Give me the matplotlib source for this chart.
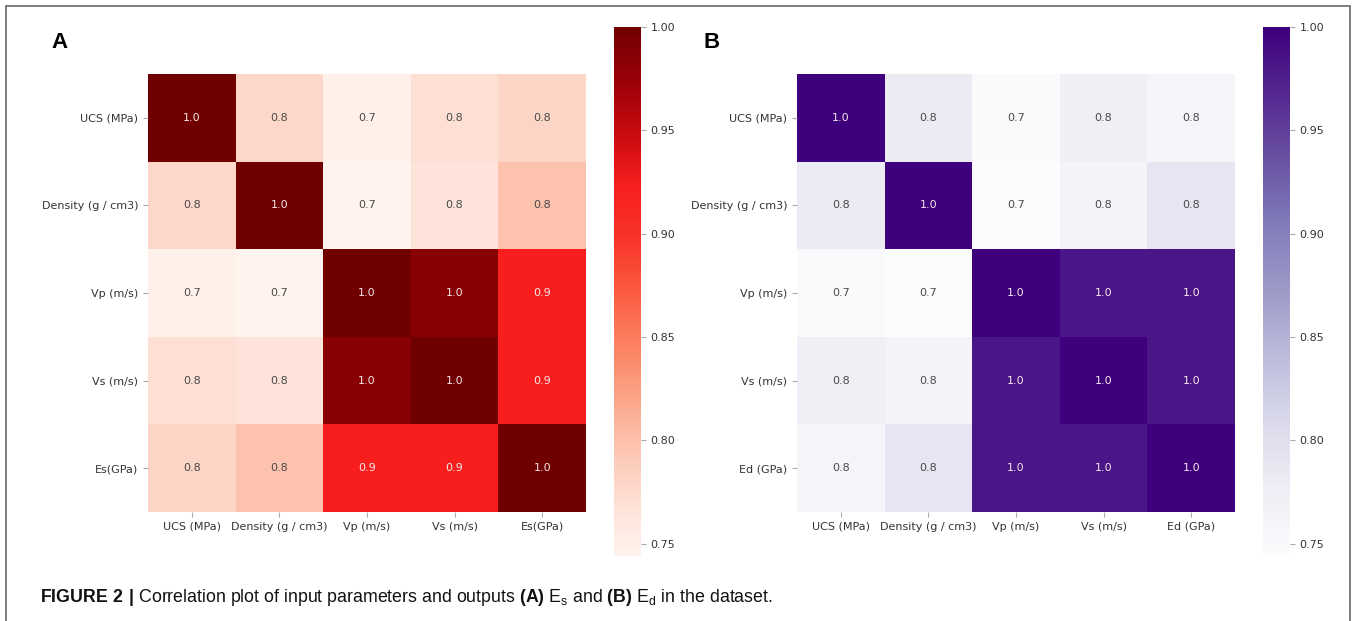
"""
Correlation heatmaps of rock parameters: (A) static modulus Es, (B) dynamic modulus Ed.
"""
import matplotlib.pyplot as plt
import numpy as np
from matplotlib.colors import LinearSegmentedColormap, Normalize, to_rgb
from matplotlib.patches import Rectangle

plt.rcParams["mathtext.fontset"] = "custom"
plt.rcParams["mathtext.rm"] = "Liberation Sans"
plt.rcParams["mathtext.bf"] = "Liberation Sans:bold"

# --------------------------------------------------------------------------- #
# data
# --------------------------------------------------------------------------- #
labels_a = ["UCS (MPa)", "Density (g / cm3)", "Vp (m/s)", "Vs (m/s)", "Es(GPa)"]
labels_b = ["UCS (MPa)", "Density (g / cm3)", "Vp (m/s)", "Vs (m/s)", "Ed (GPa)"]

corr_a = [
    [1.000, 0.778, 0.748, 0.770, 0.780],
    [0.778, 1.000, 0.744, 0.765, 0.798],
    [0.748, 0.744, 1.000, 0.985, 0.922],
    [0.770, 0.765, 0.985, 1.000, 0.922],
    [0.780, 0.798, 0.922, 0.922, 1.000],
]
corr_b = [
    [1.000, 0.780, 0.748, 0.772, 0.760],
    [0.780, 1.000, 0.744, 0.762, 0.790],
    [0.748, 0.744, 1.000, 0.983, 0.983],
    [0.772, 0.762, 0.983, 1.000, 0.983],
    [0.760, 0.790, 0.983, 0.983, 1.000],
]
cbar_ticks = [0.75, 0.80, 0.85, 0.90, 0.95, 1.00]

# bright red scale as in the original figure
reds_bright = LinearSegmentedColormap.from_list(
    "reds_bright",
    ["#fff3ee", "#fde0d4", "#fdc6b2", "#fca488", "#fb8060", "#fa5a40",
     "#f83428", "#f81e1e", "#c80a10", "#9a0008", "#700000"],
)

W, H = 1356, 621


def px_box(x0, y0, x1, y1):
    """pixel box (top-left origin) -> figure fraction [l, b, w, h]"""
    return [x0 / W, 1 - y1 / H, (x1 - x0) / W, (y1 - y0) / H]


def heatmap(ax, cax, data, labels, cmap):
    data = np.array(data)
    vmin, vmax = data.min(), data.max()
    norm = Normalize(vmin=vmin, vmax=vmax)
    mesh = ax.pcolormesh(data, cmap=cmap, norm=norm)
    ax.set_xlim(0, data.shape[1])
    ax.set_ylim(data.shape[0], 0)

    for i in range(data.shape[0]):
        for j in range(data.shape[1]):
            r, g, b = to_rgb(cmap(norm(data[i, j])))
            lum = 0.2126 * r + 0.7152 * g + 0.0722 * b
            color = "#4a4a4a" if lum > 0.408 else "#f6e6ea"
            ax.text(j + 0.5, i + 0.5, f"{data[i, j]:.1f}", ha="center",
                    va="center", fontsize=8, color=color)

    ticks = np.arange(len(labels)) + 0.5
    ax.set_xticks(ticks)
    ax.set_xticklabels(labels, fontsize=8, color="#333333")
    ax.set_yticks(ticks)
    ax.set_yticklabels(labels, fontsize=8, color="#333333")
    ax.tick_params(color="#aaaaaa", length=3.5)
    for s in ax.spines.values():
        s.set_visible(False)

    cb = ax.figure.colorbar(mesh, cax=cax)
    cb.outline.set_visible(False)
    cb.set_ticks(cbar_ticks)
    cb.ax.set_yticklabels([f"{t:.2f}" for t in cbar_ticks])
    cb.ax.tick_params(labelsize=8, labelcolor="#333333", color="#aaaaaa",
                      length=3.5)


fig = plt.figure(figsize=(W / 100, H / 100), dpi=100)

ax_a = fig.add_axes(px_box(148, 74, 586, 512))
cax_a = fig.add_axes(px_box(614, 27, 641, 556))
heatmap(ax_a, cax_a, corr_a, labels_a, reds_bright)

ax_b = fig.add_axes(px_box(797, 74, 1235, 512))
cax_b = fig.add_axes(px_box(1263, 27, 1290, 556))
heatmap(ax_b, cax_b, corr_b, labels_b, plt.get_cmap("Purples"))

fig.text(59 / W, 1 - 42 / H, "A", fontsize=16, fontweight="bold",
         family="Liberation Sans", ha="center", va="center")
fig.text(712 / W, 1 - 42 / H, "B", fontsize=16, fontweight="bold",
         family="Liberation Sans", ha="center", va="center")

fig.text(
    40 / W, 1 - 597 / H,
    r"$\mathbf{FIGURE\ 2\ |}$ Correlation plot of input parameters and outputs "
    r"$\mathbf{(A)}$ E$_{\mathrm{s}}$ and $\mathbf{(B)}$ E$_{\mathrm{d}}$ in the dataset.",
    fontsize=12.8, family="Liberation Sans", ha="left", va="center", color="#111111",
)

# frame around the figure (open at the bottom)
fig.add_artist(Rectangle((6 / W, -0.05), (1350 - 6) / W, 1 - 6 / H + 0.05,
                         transform=fig.transFigure, fill=False,
                         edgecolor="#666666", linewidth=1.2))

fig.savefig("out.png", dpi=100)
